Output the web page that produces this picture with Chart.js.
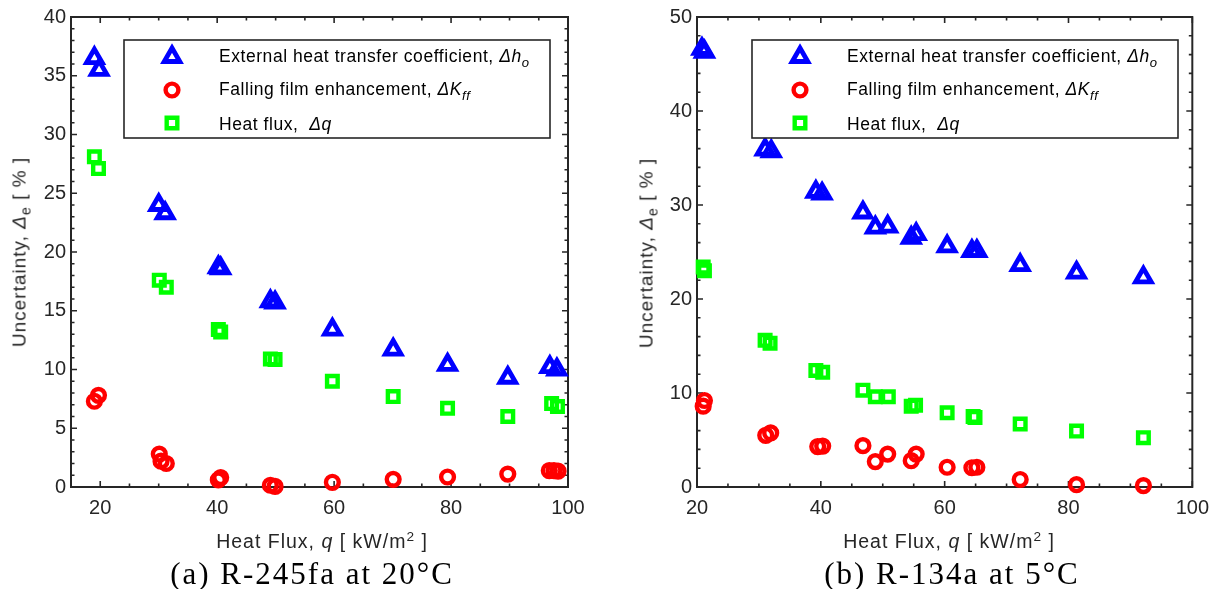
<!DOCTYPE html>
<html>
<head>
<meta charset="utf-8">
<script src="https://cdn.jsdelivr.net/npm/chart.js@4.4.1/dist/chart.umd.min.js"></script>
<style>
  body { margin: 0; background: #fff; }
  #wrap { position: relative; width: 1218px; height: 589px; overflow: hidden; }
  canvas { position: absolute; top: 0; }
  .t { position: absolute; white-space: nowrap; color: #262626; font-family: "Liberation Sans", Arial, sans-serif; }
  .ytitle { font-size: 19px; letter-spacing: 1px; transform: translate(-50%, -50%) rotate(-90deg); }
  .xtitle { font-size: 19.5px; letter-spacing: 1px; transform: translate(-50%, -50%); }
  .leg { font-size: 17.5px; letter-spacing: 0.55px; color: #000; transform: translateY(-50%); }
  .cap { position: absolute; white-space: nowrap; color: #000; font-family: "Liberation Serif", "Times New Roman", serif;
         font-size: 31px; letter-spacing: 2px; transform: translate(-50%, -50%); }
  sub { font-size: 0.75em; vertical-align: -0.35em; }
  sup { font-size: 0.7em; vertical-align: 0.55em; }
</style>
</head>
<body>
<div id="wrap">
  <canvas id="chartA" width="600" height="530" style="left:0"></canvas>
  <canvas id="chartB" width="609" height="530" style="left:609px"></canvas>

  <div class="t ytitle" style="left:21px;top:252px">Uncertainty, <i>Δ</i><sub>e</sub> [ % ]</div>
  <div class="t ytitle" style="left:648px;top:253px">Uncertainty, <i>Δ</i><sub>e</sub> [ % ]</div>
  <div class="t xtitle" style="left:322px;top:541px">Heat Flux, <i>q</i> [ kW/m<sup>2</sup> ]</div>
  <div class="t xtitle" style="left:949px;top:541px">Heat Flux, <i>q</i> [ kW/m<sup>2</sup> ]</div>

  <div class="t leg" style="left:219px;top:58px">External heat transfer coefficient, <i>Δh<sub>o</sub></i></div>
  <div class="t leg" style="left:219px;top:91px">Falling film enhancement, <i>ΔK<sub>ff</sub></i></div>
  <div class="t leg" style="left:219px;top:124px">Heat flux, &nbsp;<i>Δq</i></div>
  <div class="t leg" style="left:847px;top:58px">External heat transfer coefficient, <i>Δh<sub>o</sub></i></div>
  <div class="t leg" style="left:847px;top:91px">Falling film enhancement, <i>ΔK<sub>ff</sub></i></div>
  <div class="t leg" style="left:847px;top:124px">Heat flux, &nbsp;<i>Δq</i></div>

  <div class="cap" style="left:312px;top:574px">(a) R-245fa at 20°C</div>
  <div class="cap" style="left:952px;top:574px">(b) R-134a at 5°C</div>
</div>
<script>
// (a) R-245fa at 20 C
const fluxA_ho = [19.0, 19.8, 30.0, 31.1, 40.2, 40.6, 49.1, 49.9, 59.7, 70.1, 79.4, 89.7, 96.9, 98.1];
const hoA      = [36.5, 35.5, 24.0, 23.3, 18.7, 18.6, 15.8, 15.7, 13.4, 11.7, 10.4, 9.3, 10.2, 10.0];
const fluxA_kff = [19.0, 19.7, 30.1, 30.4, 31.3, 40.2, 40.6, 49.1, 49.9, 59.7, 70.1, 79.4, 89.7, 96.8, 97.6, 98.3];
const kffA      = [7.3, 7.8, 2.8, 2.2, 2.0, 0.6, 0.8, 0.15, 0.05, 0.4, 0.65, 0.85, 1.1, 1.4, 1.4, 1.35];
const fluxA_q = [19.0, 19.7, 30.1, 31.3, 40.2, 40.6, 49.1, 49.9, 59.7, 70.1, 79.4, 89.7, 97.2, 98.2];
const dqA     = [28.1, 27.1, 17.6, 17.0, 13.4, 13.2, 10.9, 10.85, 9.0, 7.7, 6.7, 6.0, 7.1, 6.85];

// (b) R-134a at 5 C
const fluxB_ho = [20.8, 21.2, 31.0, 32.0, 39.2, 40.2, 46.8, 48.8, 50.8, 54.6, 55.4, 60.4, 64.4, 65.2, 72.2, 81.3, 92.1];
const hoB      = [46.6, 46.3, 35.9, 35.7, 31.4, 31.2, 29.2, 27.6, 27.7, 26.5, 26.9, 25.6, 25.1, 25.1, 23.6, 22.8, 22.3];
const fluxB_kff = [21.0, 21.2, 31.1, 31.9, 39.5, 40.3, 46.8, 48.8, 50.8, 54.6, 55.4, 60.4, 64.4, 65.2, 72.2, 81.3, 92.1];
const kffB      = [8.6, 9.2, 5.5, 5.75, 4.3, 4.35, 4.4, 2.7, 3.5, 2.8, 3.5, 2.1, 2.05, 2.1, 0.8, 0.25, 0.15];
const fluxB_q = [21.0, 21.2, 31.0, 31.8, 39.2, 40.3, 46.8, 48.8, 50.9, 54.6, 55.3, 60.4, 64.6, 64.9, 72.2, 81.3, 92.1];
const dqB     = [23.4, 23.0, 15.6, 15.3, 12.4, 12.2, 10.3, 9.6, 9.6, 8.6, 8.7, 7.9, 7.5, 7.4, 6.7, 5.95, 5.25];

const xTicksA = [20, 40, 60, 80, 100];
const yTicksA = [0, 5, 10, 15, 20, 25, 30, 35, 40];
const xTicksB = [20, 40, 60, 80, 100];
const yTicksB = [0, 10, 20, 30, 40, 50];

const INK = '#262626';
const styles = [
    { pointStyle: 'triangle', radius: 9, borderWidth: 4.8, color: '#0000ff' },
    { pointStyle: 'circle', radius: 6.4, borderWidth: 4.4, color: '#ff0000' },
    { pointStyle: 'rect', radius: 7.5, borderWidth: 4.4, color: '#00ff00' }
];

function pts(xs, ys) {
    return xs.map((x, i) => ({ x: x, y: ys[i] }));
}

function ds(label, data, s) {
    return {
        label: label,
        data: data,
        showLine: false,
        pointStyle: s.pointStyle,
        pointRadius: s.radius,
        pointHoverRadius: s.radius,
        pointBorderWidth: s.borderWidth,
        pointHoverBorderWidth: s.borderWidth,
        borderColor: s.color,
        backgroundColor: 'rgba(0,0,0,0)',
        clip: false
    };
}

// box round the plot, inward ticks on all four sides, and the legend frame + markers
const axesBox = {
    id: 'axesBox',
    beforeDatasetsDraw(chart, args, o) {
        const { ctx, chartArea: a, scales: { x, y } } = chart;
        ctx.save();
        ctx.strokeStyle = INK;
        ctx.lineWidth = 1.6;
        ctx.beginPath();
        for (let v = o.xFrom; v <= x.max + 1e-6; v += o.xMinor) {
            const px = x.getPixelForValue(v);
            const len = Math.abs(v % o.xMajor) < 1e-6 ? 6 : 3.5;
            ctx.moveTo(px, a.bottom); ctx.lineTo(px, a.bottom - len);
            ctx.moveTo(px, a.top); ctx.lineTo(px, a.top + len);
        }
        for (let v = y.min; v <= y.max + 1e-6; v += o.yMinor) {
            const py = y.getPixelForValue(v);
            const len = Math.abs(v % o.yMajor) < 1e-6 ? 6 : 3.5;
            ctx.moveTo(a.left, py); ctx.lineTo(a.left + len, py);
            ctx.moveTo(a.right, py); ctx.lineTo(a.right - len, py);
        }
        ctx.stroke();
        ctx.lineWidth = 2;
        ctx.strokeRect(a.left, a.top, a.right - a.left, a.bottom - a.top);
        ctx.restore();
    },
    afterDraw(chart, args, o) {
        const { ctx, chartArea: a } = chart;
        const bx = a.left + o.legLeft, by = a.top + 23;
        ctx.save();
        ctx.fillStyle = '#fff';
        ctx.fillRect(bx, by, 426, 98);
        ctx.strokeStyle = INK;
        ctx.lineWidth = 1.6;
        ctx.strokeRect(bx, by, 426, 98);
        styles.forEach((s, i) => {
            ctx.strokeStyle = s.color;
            ctx.fillStyle = 'rgba(0,0,0,0)';
            ctx.lineWidth = s.borderWidth;
            Chart.helpers.drawPoint(ctx, { pointStyle: s.pointStyle, radius: s.radius, borderWidth: s.borderWidth, rotation: 0 },
                a.left + o.legMark, a.top + 40 + i * 33);
        });
        ctx.restore();
    }
};

function makeChart(id, sets, xr, yr, xTicks, yTicks, yWidth, padRight, tickOpts) {
    const tickFont = { family: '"Liberation Sans", Arial, sans-serif', size: 20 };
    return new Chart(document.getElementById(id), {
        type: 'scatter',
        data: { datasets: sets },
        options: {
            responsive: false,
            animation: false,
            devicePixelRatio: 1,
            events: [],
            layout: { padding: { top: 17, right: padRight, left: 0, bottom: 0 } },
            plugins: { legend: { display: false }, tooltip: { enabled: false }, axesBox: tickOpts },
            scales: {
                x: {
                    type: 'linear', position: 'bottom', min: xr[0], max: xr[1],
                    grid: { display: false, drawTicks: false },
                    border: { display: false },
                    afterBuildTicks: s => { s.ticks = xTicks.map(v => ({ value: v })); },
                    afterFit: s => { s.height = 43; },
                    ticks: { font: tickFont, color: INK, padding: 9, maxRotation: 0, callback: v => String(v) }
                },
                y: {
                    type: 'linear', position: 'left', min: yr[0], max: yr[1],
                    grid: { display: false, drawTicks: false },
                    border: { display: false },
                    afterBuildTicks: s => { s.ticks = yTicks.map(v => ({ value: v })); },
                    afterFit: s => { s.width = yWidth; },
                    ticks: { font: tickFont, color: INK, padding: 5, callback: v => String(v) }
                }
            }
        },
        plugins: [axesBox]
    });
}

makeChart('chartA', [
    ds('External heat transfer coefficient', pts(fluxA_ho, hoA), styles[0]),
    ds('Falling film enhancement', pts(fluxA_kff, kffA), styles[1]),
    ds('Heat flux', pts(fluxA_q, dqA), styles[2])
], [15, 100], [0, 40], xTicksA, yTicksA, 71, 32,
    { xFrom: 20, xMinor: 5, xMajor: 20, yMinor: 1, yMajor: 5, legLeft: 53, legMark: 101 });

makeChart('chartB', [
    ds('External heat transfer coefficient', pts(fluxB_ho, hoB), styles[0]),
    ds('Falling film enhancement', pts(fluxB_kff, kffB), styles[1]),
    ds('Heat flux', pts(fluxB_q, dqB), styles[2])
], [20, 100], [0, 50], xTicksB, yTicksB, 88, 23,
    { xFrom: 20, xMinor: 5, xMajor: 20, yMinor: 2, yMajor: 10, legLeft: 55, legMark: 103 });
</script>
</body>
</html>
